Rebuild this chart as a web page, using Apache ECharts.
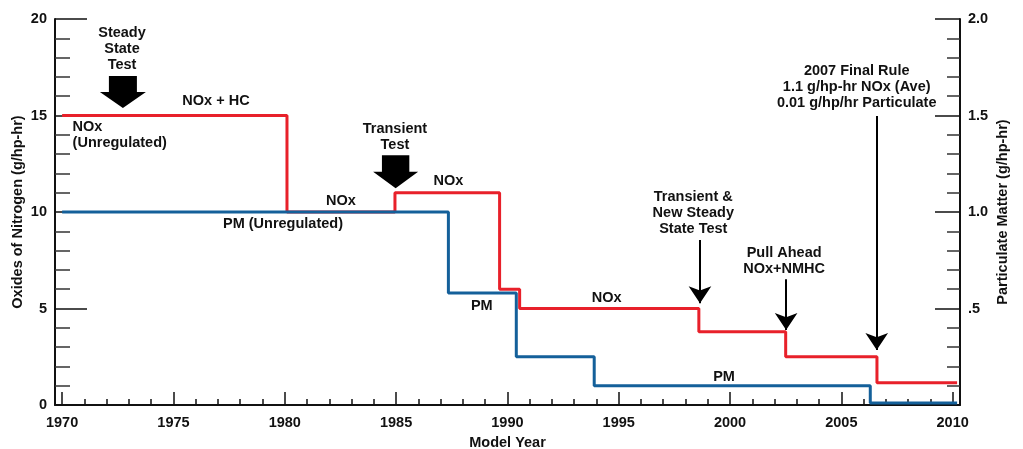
<!DOCTYPE html>
<html>
<head>
<meta charset="utf-8">
<script src="https://cdn.jsdelivr.net/npm/echarts@6/dist/echarts.min.js"></script>
<style>html,body{margin:0;padding:0;background:#fff}#c{width:1023px;height:449px}</style>
</head>
<body>
<div id="c"></div>
<script>
// ---- data ----
const noxYears  = [1970, 1980.1, 1984.95, 1989.65, 1990.55, 1998.6, 2002.5, 2006.6, 2010.2];
const noxValues = [15, 10, 11, 6, 5, 3.8, 2.5, 1.15, 1.15];
const pmYears   = [1970, 1987.35, 1990.4, 1993.9, 2006.3, 2010.2];
const pmValues  = [1.0, 0.58, 0.25, 0.1, 0.01, 0.01];
const majorYears = [1970, 1975, 1980, 1985, 1990, 1995, 2000, 2005, 2010];
const minorYears = [];
for (let y = 1970; y <= 2010; y++) if (y % 5 !== 0) minorYears.push(y);
const rightTickLabels = {0: '', 0.5: '.5', 1: '1.0', 1.5: '1.5', 2: '2.0'};

// annotation texts (positions in data units of year / left axis)
const notes = [
  {text: 'Steady\nState\nTest', x: 1972.69, y: 18.45, align: 'center'},
  {text: 'NOx + HC', x: 1976.91, y: 15.77, align: 'center'},
  {text: 'NOx\n(Unregulated)', x: 1970.47, y: 14.0, align: 'left'},
  {text: 'Transient\nTest', x: 1984.95, y: 13.88, align: 'center'},
  {text: 'NOx', x: 1987.35, y: 11.61, align: 'center'},
  {text: 'NOx', x: 1982.52, y: 10.57, align: 'center'},
  {text: 'PM (Unregulated)', x: 1979.92, y: 9.38, align: 'center'},
  {text: 'PM', x: 1988.85, y: 5.13, align: 'center'},
  {text: 'NOx', x: 1994.46, y: 5.53, align: 'center'},
  {text: 'PM', x: 1999.73, y: 1.47, align: 'center'},
  {text: 'Transient &\nNew Steady\nState Test', x: 1998.35, y: 9.93, align: 'center'},
  {text: 'Pull Ahead\nNOx+NMHC', x: 2002.43, y: 7.46, align: 'center'},
  {text: '2007 Final Rule\n1.1 g/hp-hr NOx (Ave)\n0.01 g/hp/hr Particulate', x: 2005.69, y: 16.46, align: 'center'}
];
const blockArrows = [
  {x: 1972.73, y: 16.22, w: 46, h: 32},
  {x: 1984.98, y: 12.09, w: 45, h: 33}
];
const thinArrows = [
  {x: 1998.65, from: 8.55, to: 5.27},
  {x: 2002.52, from: 6.51, to: 3.89},
  {x: 2006.59, from: 14.97, to: 2.85}
];

const X_MIN = 1969.68, X_MAX = 2010.33;
const FONT = "'Liberation Sans', Arial, sans-serif";
const INK = '#111';

const chart = echarts.init(document.getElementById('c'), null, {renderer: 'canvas'});
const txt = {fontFamily: FONT, fontWeight: 'bold', fontSize: 14.5, color: INK};

chart.setOption({
  animation: false,
  backgroundColor: '#fff',
  grid: {left: 55, right: 63, top: 19, bottom: 44, containLabel: false, outerBoundsMode: 'none'},
  xAxis: [
    {
      type: 'value', min: X_MIN, max: X_MAX, position: 'bottom',
      axisLine: {show: true, lineStyle: {color: INK, width: 2}},
      axisTick: {show: true, inside: true, length: 13, customValues: majorYears, lineStyle: {color: INK, width: 1.5}},
      axisLabel: Object.assign({customValues: majorYears, margin: 10, formatter: v => String(Math.round(v))}, txt),
      splitLine: {show: false},
      name: 'Model Year', nameLocation: 'middle', nameGap: 30, nameMoveOverlap: false,
      nameTextStyle: txt
    },
    {
      type: 'value', min: X_MIN, max: X_MAX, position: 'bottom',
      axisLine: {show: false},
      axisTick: {show: true, inside: true, length: 6, customValues: minorYears, lineStyle: {color: INK, width: 1.5}},
      axisLabel: {show: false},
      splitLine: {show: false}
    }
  ],
  yAxis: [
    {
      type: 'value', min: 0, max: 20, interval: 5, position: 'left',
      axisLine: {show: true, lineStyle: {color: INK, width: 2}},
      axisTick: {show: true, inside: true, length: 32, lineStyle: {color: INK, width: 1.5}},
      minorTick: {show: true, splitNumber: 5, length: 15, lineStyle: {color: '#333', width: 1.5}},
      axisLabel: Object.assign({margin: 8}, txt),
      splitLine: {show: false},
      name: 'Oxides of Nitrogen (g/hp-hr)', nameLocation: 'middle', nameGap: 30, nameMoveOverlap: false,
      nameTextStyle: txt
    },
    {
      type: 'value', min: 0, max: 2, interval: 0.5, position: 'right',
      axisLine: {show: true, lineStyle: {color: INK, width: 2}},
      axisTick: {show: true, inside: true, length: 25, lineStyle: {color: INK, width: 1.5}},
      minorTick: {show: true, splitNumber: 5, length: 13, lineStyle: {color: '#333', width: 1.5}},
      axisLabel: Object.assign({margin: 8, formatter: v => rightTickLabels[v] !== undefined ? rightTickLabels[v] : v.toFixed(1)}, txt),
      splitLine: {show: false},
      name: 'Particulate Matter (g/hp-hr)', nameLocation: 'middle', nameGap: 35, nameMoveOverlap: false,
      nameTextStyle: txt
    }
  ],
  series: [
    {
      name: 'NOx', type: 'line', step: 'end', xAxisIndex: 0, yAxisIndex: 0,
      data: noxYears.map((x, i) => [x, noxValues[i]]),
      symbol: 'none', clip: false,
      lineStyle: {color: '#e8202a', width: 3},
      z: 2,
      markPoint: {
        silent: true,
        data: notes.map(n => ({
          coord: [n.x, n.y], symbol: 'circle', symbolSize: 1,
          itemStyle: {color: 'rgba(0,0,0,0)'},
          label: Object.assign({show: true, position: 'inside', align: n.align, verticalAlign: 'middle', lineHeight: 16, formatter: n.text}, txt)
        })).concat(blockArrows.map(b => ({
          coord: [b.x, b.y],
          symbol: 'path://M9,0 L37,0 L37,16 L46,16 L23,32 L0,16 L9,16 Z',
          symbolSize: [b.w, b.h],
          itemStyle: {color: '#000'},
          label: {show: false}
        })))
      },
      markLine: {
        silent: true,
        symbol: ['none', 'arrow'],
        symbolSize: 17,
        lineStyle: {color: '#000', width: 2, type: 'solid'},
        label: {show: false},
        data: thinArrows.map(a => [{coord: [a.x, a.from]}, {coord: [a.x, a.to]}])
      }
    },
    {
      name: 'PM', type: 'line', step: 'end', xAxisIndex: 0, yAxisIndex: 1,
      data: pmYears.map((x, i) => [x, pmValues[i]]),
      symbol: 'none', clip: false,
      lineStyle: {color: '#14609a', width: 3},
      z: 3
    }
  ]
});
</script>
</body>
</html>
